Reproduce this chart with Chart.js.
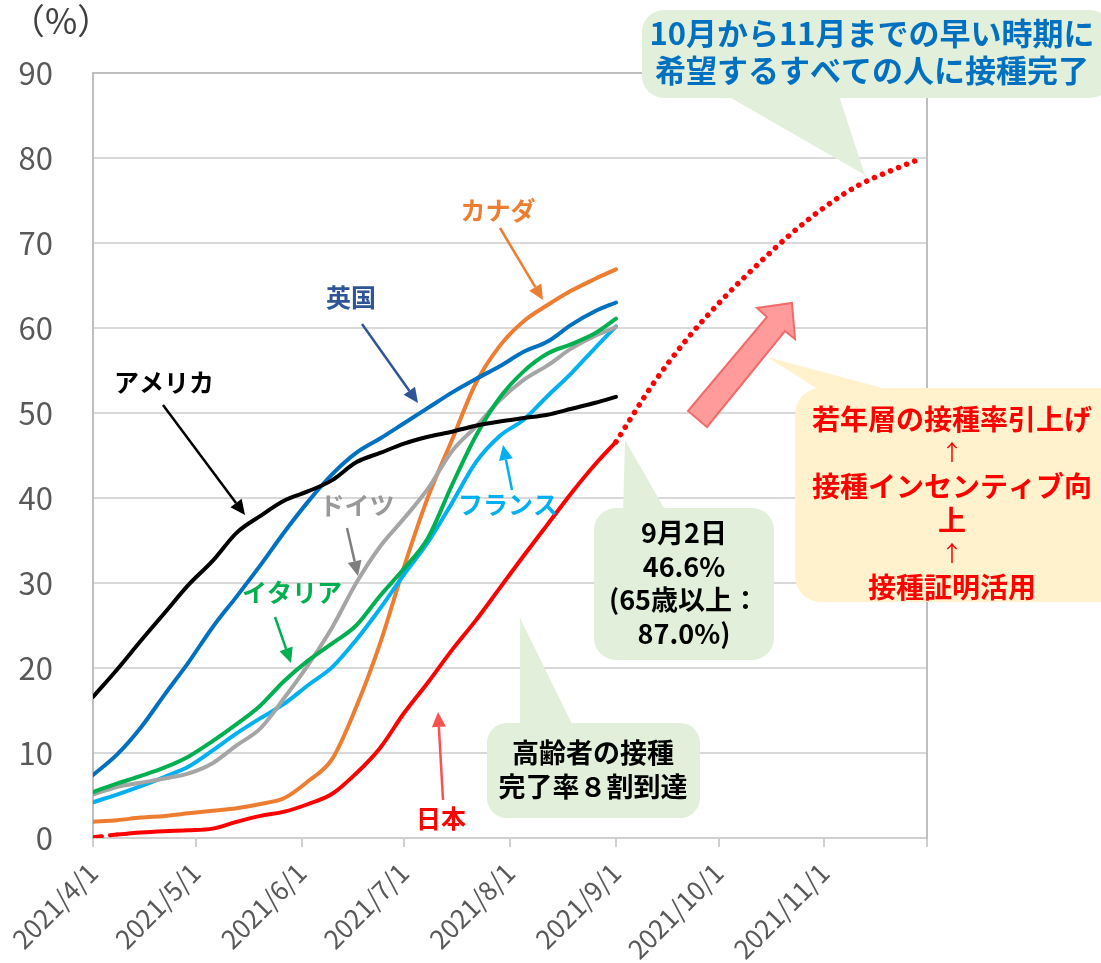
<!DOCTYPE html>
<html lang="ja">
<head>
<meta charset="utf-8">
<script src="https://cdn.jsdelivr.net/npm/chart.js@4.4.1/dist/chart.umd.min.js"></script>
<style>
  html, body { margin: 0; padding: 0; background: #fff; }
  #wrap { width: 1101px; height: 963px; }
</style>
</head>
<body>
<div id="wrap"><canvas id="chart" width="1101" height="963"></canvas></div>
<script>
// days counted from 2021/4/1
const days = [0,7,14,21,28,35,42,49,56,63,70,77,84,91,98,105,112,119,126,133,140,147,153];

const usa     = [16.6,19.8,23.2,26.5,29.8,32.6,35.9,37.9,39.7,40.8,42.1,44.2,45.3,46.4,47.2,47.8,48.5,49.0,49.4,49.8,50.5,51.2,51.9];
const uk      = [7.4,9.8,13.0,16.9,20.7,24.8,28.4,32.1,36.0,39.6,42.8,45.3,47.0,48.8,50.6,52.4,54.0,55.5,57.2,58.4,60.4,62.0,63.0];
const canada  = [1.9,2.1,2.4,2.6,2.9,3.2,3.5,4.0,4.7,6.7,9.3,15.4,22.9,31.9,40.1,46.8,53.5,57.9,60.8,62.7,64.4,65.8,66.9];
const italy   = [5.4,6.4,7.3,8.3,9.6,11.4,13.4,15.6,18.5,20.9,22.9,25.0,28.5,31.7,35.3,41.5,47.3,51.8,54.9,57.0,58.1,59.4,61.1];
const germany = [5.1,6.0,6.5,7.0,7.6,8.8,10.9,12.9,16.5,20.4,24.8,30.0,34.3,37.6,41.1,45.5,48.4,51.5,53.9,55.6,57.6,59.1,60.1];
const france  = [4.2,5.1,6.1,7.2,8.4,10.3,12.3,14.1,15.8,18.0,20.1,23.3,27.0,31.0,34.8,39.4,44.2,47.3,49.2,52.0,54.7,57.7,60.2];
const japan   = [0.1,0.4,0.65,0.8,0.9,1.1,1.9,2.6,3.1,4.0,5.2,7.6,10.6,14.7,18.3,22.1,25.6,29.4,33.2,36.9,40.6,44.0,46.6];

// japan outlook (dotted)
const forecastDays = [153,164,174,184,194,204,214,224,234,242];
const forecast     = [46.6,53.5,58.8,63.3,67.3,71.0,74.2,76.8,78.6,79.9];

const tickDays   = [0,30,61,91,122,153,183,214,244];
const tickLabels = ['2021/4/1','2021/5/1','2021/6/1','2021/7/1','2021/8/1','2021/9/1','2021/10/1','2021/11/1',''];

const pts = (xs, ys) => ys.map((v, i) => ({ x: xs[i], y: v }));
const JP = '"Noto Sans CJK JP", "Noto Sans", sans-serif';

function rr(c, x, y, w, h, r) {
  c.beginPath();
  c.moveTo(x + r, y);
  c.arcTo(x + w, y, x + w, y + h, r);
  c.arcTo(x + w, y + h, x, y + h, r);
  c.arcTo(x, y + h, x, y, r);
  c.arcTo(x, y, x + w, y, r);
  c.closePath();
}

function callout(c, box, tri, color) {
  c.fillStyle = color;
  rr(c, box[0], box[1], box[2], box[3], box[4]);
  c.fill();
  c.beginPath();
  c.moveTo(tri[0][0], tri[0][1]);
  c.lineTo(tri[1][0], tri[1][1]);
  c.lineTo(tri[2][0], tri[2][1]);
  c.closePath();
  c.fill();
}

function arrow(c, x1, y1, x2, y2, color, lw = 2.5, hl = 15, hw = 7) {
  const a = Math.atan2(y2 - y1, x2 - x1);
  const bx = x2 - hl * Math.cos(a), by = y2 - hl * Math.sin(a);
  c.strokeStyle = color;
  c.fillStyle = color;
  c.lineWidth = lw;
  c.beginPath();
  c.moveTo(x1, y1);
  c.lineTo(bx, by);
  c.stroke();
  c.beginPath();
  c.moveTo(x2, y2);
  c.lineTo(bx + hw * Math.sin(a), by - hw * Math.cos(a));
  c.lineTo(bx - hw * Math.sin(a), by + hw * Math.cos(a));
  c.closePath();
  c.fill();
}

function lines(c, arr, x, y0, step) {
  arr.forEach((t, i) => c.fillText(t, x, y0 + i * step));
}

const notes = {
  id: 'notes',
  afterDraw(chart) {
    const c = chart.ctx;
    c.save();
    c.textAlign = 'center';
    c.textBaseline = 'middle';

    // unit
    c.fillStyle = '#404040';
    c.font = '35px ' + JP;
    c.fillText('（%）', 61, 21);

    // big pink arrow
    c.beginPath();
    [[688,411],[767,317],[757,308],[792,303],[795,339],[785,331],[707,427]].forEach((p, i) => i ? c.lineTo(p[0], p[1]) : c.moveTo(p[0], p[1]));
    c.closePath();
    c.fillStyle = '#FF9B9B';
    c.fill();
    c.strokeStyle = '#F26B6B';
    c.lineWidth = 2;
    c.stroke();

    // callouts
    callout(c, [642, 10, 470, 88, 22], [[717,90],[837,90],[865,175]], '#E2EFDA');
    callout(c, [594, 508, 180, 152, 22], [[623,515],[668,515],[625,440]], '#E2EFDA');
    callout(c, [487, 723, 213, 95, 20], [[520,730],[575,730],[520,618]], '#E2EFDA');
    callout(c, [795, 388, 330, 214, 26], [[835,400],[927,400],[767,357]], '#FFF2CC');

    c.font = 'bold 31px ' + JP;
    c.fillStyle = '#0070C0';
    lines(c, ['10月から11月までの早い時期に', '希望するすべての人に接種完了'], 872, 33, 37);

    c.font = 'bold 27px ' + JP;
    c.fillStyle = '#000000';
    lines(c, ['9月2日', '46.6%', '(65歳以上：', '87.0%)'], 684, 533, 33.5);
    lines(c, ['高齢者の接種', '完了率８割到達'], 593, 753, 34);

    c.fillStyle = '#FF0000';
    c.font = 'bold 28px ' + JP;
    c.fillText('若年層の接種率引上げ', 952, 419);
    c.fillText('接種インセンティブ向', 952, 486);
    c.fillText('上', 952, 520);
    c.fillText('接種証明活用', 952, 587);
    c.font = '22px ' + JP;
    c.fillText('↑', 952, 452);
    c.fillText('↑', 952, 553);

    // series labels
    c.font = 'bold 25px ' + JP;
    const labs = [
      ['カナダ', '#ED7D31', 498, 210, [500,228,543,300], '#ED7D31'],
      ['英国', '#2F5597', 351, 297, [362,324,418,403], '#2F5597'],
      ['アメリカ', '#000000', 164, 382, [163,405,245,515], '#000000'],
      ['ドイツ', '#999999', 357, 505, [347,528,358,576], '#7F7F7F'],
      ['イタリア', '#00B050', 292, 592, [275,617,291,663], '#00B050'],
      ['フランス', '#00B0F0', 508, 504, [512,490,503,445], '#00B0F0'],
      ['日本', '#FF0000', 441, 818, [443,800,438,712], '#FF5050']
    ];
    labs.forEach(l => {
      c.fillStyle = l[1];
      c.fillText(l[0], l[2], l[3]);
      arrow(c, l[4][0], l[4][1], l[4][2], l[4][3], l[5]);
    });
    c.restore();
  }
};

new Chart(document.getElementById('chart'), {
  type: 'line',
  data: {
    datasets: [
      { label: 'アメリカ', data: pts(days, usa), borderColor: '#000000' },
      { label: '英国', data: pts(days, uk), borderColor: '#0070C0' },
      { label: 'イタリア', data: pts(days, italy), borderColor: '#00B050' },
      { label: 'ドイツ', data: pts(days, germany), borderColor: '#A5A5A5' },
      { label: 'フランス', data: pts(days, france), borderColor: '#00B0F0' },
      { label: 'カナダ', data: pts(days, canada), borderColor: '#ED7D31' },
      {
        label: '日本', data: pts(days, japan), borderColor: '#FF0000',
        segment: { borderDash: ctx => ctx.p0DataIndex === 0 ? [9, 8] : undefined }
      },
      {
        label: '日本（見通し）', data: pts(forecastDays, forecast), borderColor: '#FF0000',
        borderDash: [0.1, 8.6], borderWidth: 5.5, borderCapStyle: 'round', tension: 0.4
      }
    ]
  },
  options: {
    responsive: false,
    animation: false,
    layout: { padding: { top: 73, left: 0, right: 0, bottom: 0 } },
    plugins: { legend: { display: false }, tooltip: { enabled: false } },
    elements: {
      point: { radius: 0 },
      line: { borderWidth: 4, tension: 0.3, cubicInterpolationMode: 'monotone', borderCapStyle: 'round', borderJoinStyle: 'round' }
    },
    scales: {
      x: {
        type: 'linear', min: 0, max: 244,
        afterBuildTicks: s => { s.ticks = tickDays.map(v => ({ value: v })); },
        afterFit: s => { s.height = 125; },
        ticks: {
          autoSkip: false, minRotation: 45, maxRotation: 45, padding: 10,
          color: '#595959', font: { family: JP, size: 26 },
          callback: (v, i) => tickLabels[i]
        },
        grid: { drawOnChartArea: false, drawTicks: true, tickLength: 9, color: '#D0D0D0', lineWidth: 2 },
        border: { color: '#D0D0D0', width: 2 }
      },
      y: {
        min: 0, max: 90,
        afterFit: s => { s.width = 93; },
        ticks: { stepSize: 10, padding: 40, color: '#595959', font: { family: JP, size: 31 } },
        grid: { drawTicks: false, color: ctx => ctx.tick && ctx.tick.value === 90 ? '#BFBFBF' : '#D9D9D9', lineWidth: 2 },
        border: { color: '#BFBFBF', width: 2 }
      },
      y2: {
        position: 'right', min: 0, max: 90,
        afterFit: s => { s.width = 174; },
        ticks: { display: false },
        grid: { drawOnChartArea: false, drawTicks: false },
        border: { color: '#BFBFBF', width: 2 }
      }
    }
  },
  plugins: [notes]
});
</script>
</body>
</html>
